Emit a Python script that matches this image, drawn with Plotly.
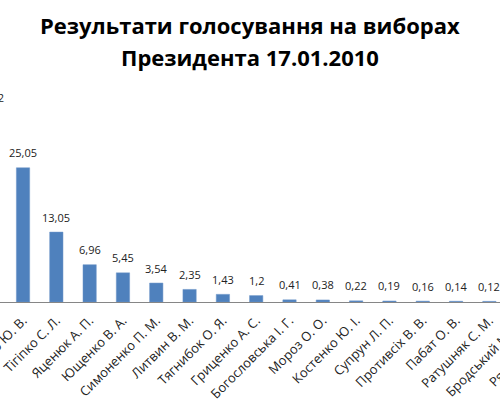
import plotly.graph_objects as go

candidates = ["Янукович В. Ф.", "Тимошенко Ю. В.", "Тігіпко С. Л.", "Яценюк А. П.",
              "Ющенко В. А.", "Симоненко П. М.", "Литвин В. М.", "Тягнибок О. Я.",
              "Гриценко А. С.", "Богословська І. Г.", "Мороз О. О.", "Костенко Ю. І.",
              "Супрун Л. П.", "Противсіх В. В.", "Пабат О. В.", "Ратушняк С. М.",
              "Бродський М. Ю.", "Рябоконь О. В."]
percent = [35.32, 25.05, 13.05, 6.96, 5.45, 3.54, 2.35, 1.43, 1.2, 0.41, 0.38,
           0.22, 0.19, 0.16, 0.14, 0.12, 0.06, 0.03]
title_lines = ["Результати голосування на виборах", "Президента 17.01.2010"]

labels = [str(v).replace(".", ",") for v in percent]
FONT = "Open Sans"

# The original chart is a cropped view of a wider chart: the figure is drawn
# wider than the window and shifted left so that only the visible part shows.
SHIFT = 30          # px the figure is moved to the left
UNIT = 33.3         # px per category
X_LEFT = -0.5916
X_RIGHT = 17.3
FIG_W = round((X_RIGHT - X_LEFT) * UNIT)
VIEW_W = 500

fig = go.Figure()
fig.add_trace(go.Bar(
    x=candidates, y=percent,
    marker=dict(color="#4F81BD", line=dict(color="#6F97C8", width=0.5)),
    hoverinfo="x+y",
))

value_ann = [
    dict(x=c, y=v, xref="x", yref="y", text=t, showarrow=False,
         yanchor="middle", xanchor="center", yshift=15,
         font=dict(family=FONT, size=11, color="#222222"))
    for c, v, t in zip(candidates, percent, labels)
]
title_ann = [
    dict(x=(SHIFT + VIEW_W / 2) / FIG_W, y=yy, xref="paper", yref="paper",
         text="<b>%s</b>" % line, showarrow=False,
         xanchor="center", yanchor="middle",
         font=dict(family=FONT, size=22, color="#000000"))
    for line, yy in zip(title_lines, [1.371, 1.213])
]

fig.update_layout(
    width=FIG_W, height=400,
    margin=dict(l=0, r=0, t=100, b=98),
    paper_bgcolor="white", plot_bgcolor="white",
    showlegend=False,
    bargap=0.6,
    annotations=title_ann + value_ann,
    xaxis=dict(type="category", range=[X_LEFT, X_RIGHT], automargin=False,
               showline=True, linecolor="#868686", linewidth=1,
               ticks="", tickangle=-45, ticklabeloverflow="allow",
               ticklabelstandoff=5,
               tickfont=dict(family=FONT, size=13, color="#222222"),
               showgrid=False, zeroline=False),
    yaxis=dict(range=[0, 37.7], visible=False, showgrid=False, zeroline=False),
)

post = ("document.body.style.margin='0';document.body.style.padding='0';"
        "document.body.style.overflow='hidden';"
        "document.documentElement.style.overflow='hidden';"
        "document.getElementById('{plot_id}').style.marginLeft='-%dpx';" % SHIFT)

fig.write_html("out.html", config={"displayModeBar": False}, post_script=post)
